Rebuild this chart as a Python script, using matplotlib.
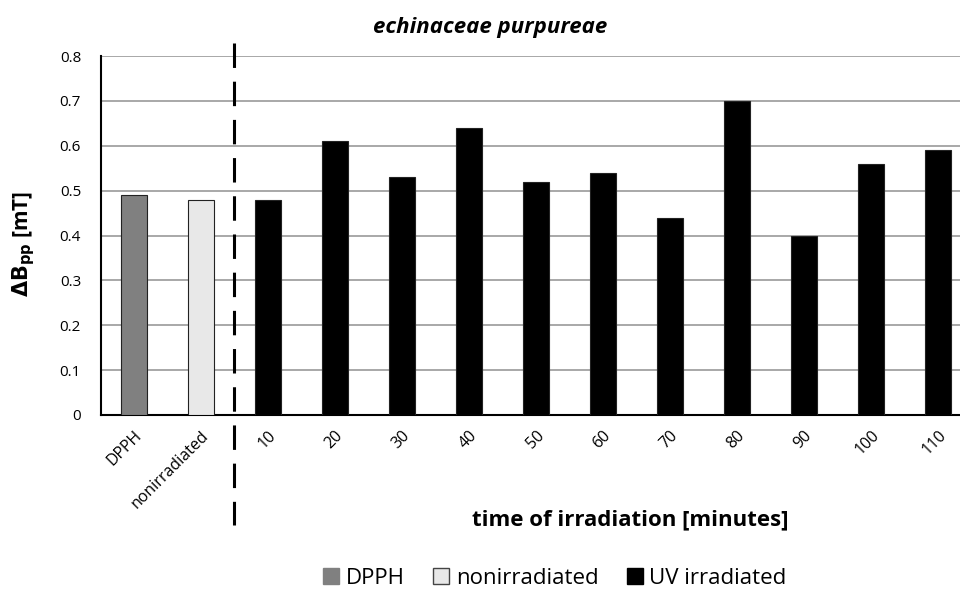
import numpy as np
import matplotlib.pyplot as plt
from matplotlib.patches import Patch

plt.rcParams['font.family'] = ['Open Sans', 'DejaVu Sans']

# Data
categories = ['DPPH', 'nonirradiated', '10', '20', '30', '40', '50', '60',
              '70', '80', '90', '100', '110']
values = [0.49, 0.48, 0.48, 0.61, 0.53, 0.64, 0.52, 0.54, 0.44, 0.70, 0.40, 0.56, 0.59]
groups = ['DPPH', 'nonirradiated'] + ['UV irradiated'] * 11
group_colors = {'DPPH': '#808080', 'nonirradiated': '#e8e8e8', 'UV irradiated': '#000000'}
y_ticks = [0, 0.1, 0.2, 0.3, 0.4, 0.5, 0.6, 0.7, 0.8]

fig = plt.figure(figsize=(9.6, 5.92), dpi=100)
ax = fig.add_axes([100.5 / 960, 1 - 415 / 592, (960 - 100.5) / 960, (415 - 56) / 592])

x = np.arange(len(categories))
colors = [group_colors[g] for g in groups]
ax.bar(x, values, width=0.4, color=colors, edgecolor='#222222', linewidth=0.8, zorder=3)

ax.set_ylim(0, 0.8)
ax.set_yticks(y_ticks)
ax.set_yticklabels([('%g' % t) for t in y_ticks], fontsize=11)
# axis runs past the right edge of the picture
ax.set_xlim(-0.5, (960 - 100.5) / 67 - 0.5)
ax.set_xticks(x)
ax.set_xticklabels(categories, rotation=45, ha='right', rotation_mode='anchor', fontsize=11.5)
ax.tick_params(length=0, pad=9)
ax.tick_params(axis='y', pad=14)
ax.yaxis.grid(True, color='#999999', linewidth=1.2, zorder=0)
for s in ['top', 'right']:
    ax.spines[s].set_visible(False)
ax.spines['left'].set_linewidth(1.5)
ax.spines['bottom'].set_linewidth(1.5)

# separator between controls and irradiated samples
ax.plot([1.5, 1.5], [0.829, -0.245], color='black', linewidth=2.2, linestyle=(0, (8, 4.5)),
        clip_on=False, zorder=4)

fig.text(490 / 960, 1 - 28 / 592, 'echinaceae purpureae', ha='center', va='center',
         fontsize=16, fontweight='bold', fontstyle='italic')
fig.text(24 / 960, 1 - 244 / 592, r'$\mathbf{\Delta B_{pp}}$ [mT]', rotation=90,
         ha='center', va='center', fontsize=15, fontweight='bold')
fig.text(630 / 960, 1 - 520 / 592, 'time of irradiation [minutes]', ha='center',
         va='center', fontsize=16, fontweight='bold')

handles = [Patch(facecolor=group_colors[g], edgecolor='#444444' if g == 'nonirradiated' else group_colors[g],
                 label=g) for g in ['DPPH', 'nonirradiated', 'UV irradiated']]
fig.legend(handles=handles, loc='center', bbox_to_anchor=(555 / 960, 1 - 578 / 592),
           ncol=3, frameon=False, fontsize=16, handlelength=0.7, handleheight=0.7,
           handletextpad=0.3, columnspacing=1.3)

fig.savefig('out.png', dpi=100)
